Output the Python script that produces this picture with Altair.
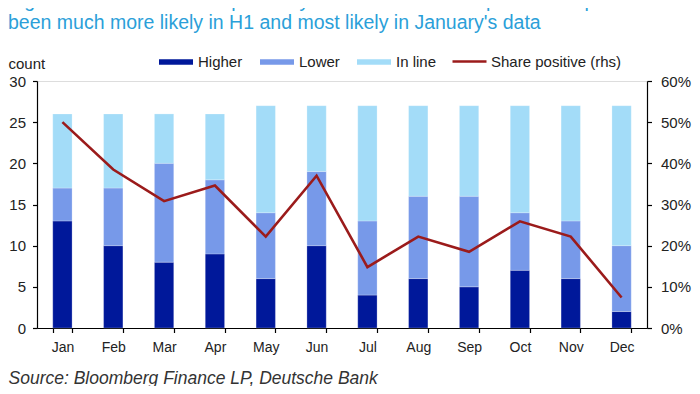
import altair as alt
import pandas as pd

months = ["Jan", "Feb", "Mar", "Apr", "May", "Jun", "Jul", "Aug", "Sep", "Oct", "Nov", "Dec"]
categories = ["Higher", "Lower", "In line"]
higher = [13, 10, 8, 9, 6, 10, 4, 6, 5, 7, 6, 2]
lower = [4, 7, 12, 9, 8, 9, 9, 10, 11, 7, 7, 8]
in_line = [9, 9, 6, 8, 13, 8, 14, 11, 11, 13, 14, 17]
share_positive = [50.0, 38.5, 30.8, 34.6, 22.2, 37.0, 14.8, 22.2, 18.5, 25.9, 22.2, 7.4]
line_label = "Share positive (rhs)"

title_lines = [
    "Figure 1: US core CPI surprises by month since 1998 - positive surprises have",
    "been much more likely in H1 and most likely in January's data",
]
source_text = "Source: Bloomberg Finance LP, Deutsche Bank"

bar_colors = ["#00189a", "#7799e9", "#a3dcf8"]
line_color = "#9b1b1b"
FONT = "Liberation Sans"

rows = []
for i, m in enumerate(months):
    for k, (cat, vals) in enumerate(zip(categories, [higher, lower, in_line])):
        rows.append({"month": m, "category": cat, "count": vals[i], "ord": k})
bars_df = pd.DataFrame(rows)

line_df = pd.DataFrame({
    "month": months,
    "share": [v / 100 for v in share_positive],
    "series": [line_label] * len(months),
})

x_enc = alt.X(
    "month:N",
    sort=months,
    scale=alt.Scale(paddingInner=0.62, paddingOuter=0.31),
    axis=alt.Axis(
        title=source_text,
        titleFont=FONT, titleFontSize=17.5, titleFontStyle="italic", titleFontWeight="normal",
        titleColor="#333333", titleAnchor="start", titleAlign="left", titleBaseline="alphabetic",
        titleX=-29, titleY=55,
        labelAngle=0, labelFont=FONT, labelFontSize=14, labelColor="#222222", labelPadding=8,
        tickBand="extent", tickSize=4.5, tickColor="#000000", domainColor="#000000",
        domainWidth=1.2, tickWidth=1.2,
    ),
)

bars = alt.Chart(bars_df).mark_bar(stroke="#ffffff", strokeWidth=0.4, strokeOpacity=0.6).encode(
    x=x_enc,
    y=alt.Y(
        "count:Q",
        stack="zero",
        scale=alt.Scale(domain=[0, 30], nice=False),
        axis=alt.Axis(
            values=[0, 5, 10, 15, 20, 25, 30], grid=False,
            title="count", titleAngle=0, titleX=-29, titleY=-13, titleAlign="left",
            titleBaseline="alphabetic", titleFont=FONT, titleFontSize=15, titleFontWeight="normal",
            titleColor="#222222",
            labelFont=FONT, labelFontSize=15, labelColor="#222222", labelPadding=7,
            tickSize=4.5, tickColor="#000000", domainColor="#000000",
            domainWidth=1.2, tickWidth=1.2,
        ),
    ),
    color=alt.Color(
        "category:N",
        scale=alt.Scale(domain=categories, range=bar_colors),
        legend=alt.Legend(
            orient="none", legendX=122, legendY=-36, direction="horizontal", title=None,
            symbolType="M-1,-0.16H1V0.16H-1Z", symbolSize=1156, symbolStrokeWidth=0,
            labelFont=FONT, labelFontSize=15, labelColor="#222222", labelOffset=5,
            columnPadding=17,
        ),
    ),
    order=alt.Order("ord:Q", sort="ascending"),
)

line = alt.Chart(line_df).mark_line(strokeWidth=2.6).encode(
    x=x_enc,
    y=alt.Y(
        "share:Q",
        scale=alt.Scale(domain=[0, 0.6], nice=False),
        axis=alt.Axis(
            orient="right", format=".0%", values=[0, 0.1, 0.2, 0.3, 0.4, 0.5, 0.6], grid=False,
            title=None,
            labelFont=FONT, labelFontSize=15, labelColor="#222222", labelPadding=9,
            tickSize=4.5, tickColor="#000000", domainColor="#000000",
            domainWidth=1.2, tickWidth=1.2,
        ),
    ),
    stroke=alt.Stroke(
        "series:N",
        scale=alt.Scale(domain=[line_label], range=[line_color]),
        legend=alt.Legend(
            orient="none", legendX=414, legendY=-38, direction="horizontal", title=None,
            symbolType="stroke", symbolSize=1156, symbolStrokeWidth=2.6,
            labelFont=FONT, labelFontSize=15, labelColor="#222222", labelOffset=3,
        ),
    ),
)

chart = (
    alt.layer(bars, line)
    .resolve_scale(y="independent")
    .properties(
        width=610,
        height=247,
        padding={"left": 29, "top": 73, "right": 45, "bottom": 58},
        autosize=alt.AutoSizeParams(type="none"),
        title=alt.TitleParams(
            text=title_lines, anchor="start", frame="group", orient="top",
            font=FONT, fontSize=19.5, fontWeight="normal", color="#2b9fd9",
            lineHeight=22, baseline="alphabetic", dx=-29, dy=25, offset=20,
        ),
    )
    .configure_view(stroke=None)
    .configure(background="#ffffff")
)

chart.save("out.html", embed_options={"renderer": "svg", "actions": False})
